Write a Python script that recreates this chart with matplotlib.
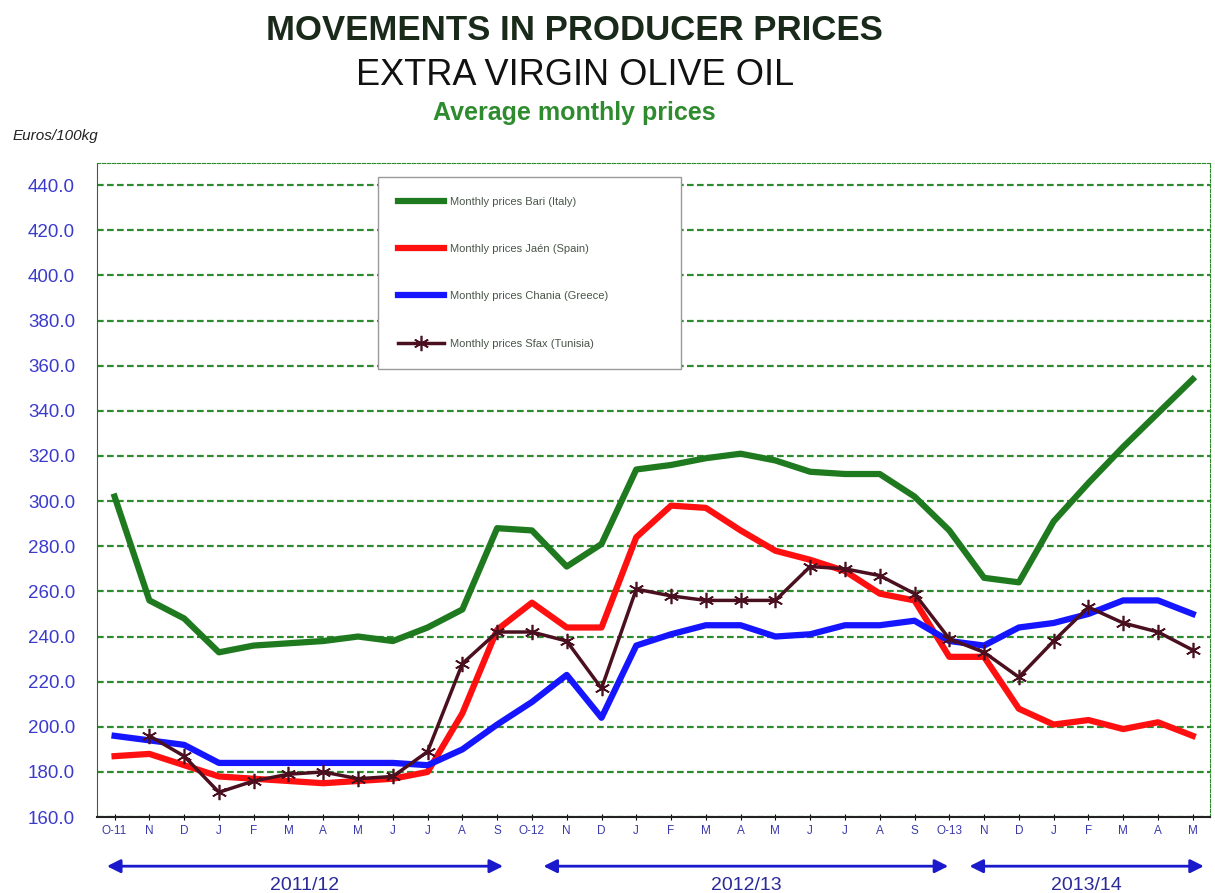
import numpy as np
import matplotlib
matplotlib.use("Agg")
import matplotlib.pyplot as plt

plt.rcParams["font.family"] = ["Liberation Sans", "DejaVu Sans"]

months = ["O-11", "N", "D", "J", "F", "M", "A", "M", "J", "J", "A", "S",
          "O-12", "N", "D", "J", "F", "M", "A", "M", "J", "J", "A", "S",
          "O-13", "N", "D", "J", "F", "M", "A", "M"]

bari = [302, 256, 248, 233, 236, 237, 238, 240, 238, 244, 252, 288,
        287, 271, 281, 314, 316, 319, 321, 318, 313, 312, 312, 302,
        287, 266, 264, 291, 308, 324, 339, 354]
jaen = [187, 188, 183, 178, 177, 176, 175, 176, 177, 180, 206, 243,
        255, 244, 244, 284, 298, 297, 287, 278, 274, 269, 259, 256,
        231, 231, 208, 201, 203, 199, 202, 196]
chania = [196, 194, 192, 184, 184, 184, 184, 184, 184, 183, 190, 201,
          211, 223, 204, 236, 241, 245, 245, 240, 241, 245, 245, 247,
          238, 236, 244, 246, 250, 256, 256, 250]
sfax = [np.nan, 196, 187, 171, 176, 179, 180, 177, 178, 189, 228, 242,
        242, 238, 217, 261, 258, 256, 256, 256, 271, 270, 267, 259,
        239, 233, 222, 238, 253, 246, 242, 234]

seasons = ["2011/12", "2012/13", "2013/14"]
season_spans = [(-0.3, 11.25), (12.25, 24.05), (24.5, 31.4)]

x = np.arange(len(months))

fig = plt.figure(figsize=(12.15, 8.93), dpi=100)
ax = fig.add_axes([0.08, 0.085, 0.916, 0.733])

ax.plot(x, bari, color="#1f7a1f", lw=4.5, label="Monthly prices Bari (Italy)", zorder=3)
ax.plot(x, jaen, color="#ff1010", lw=4.5, label="Monthly prices Jaén (Spain)", zorder=3)
ax.plot(x, chania, color="#1515ff", lw=4.5, label="Monthly prices Chania (Greece)", zorder=3)
ax.plot(x, sfax, color="#4a1020", lw=2.5, marker=(6, 2, 0), ms=11, mew=1.2,
        label="Monthly prices Sfax (Tunisia)", zorder=4)

ax.set_xlim(-0.5, len(months) - 0.5)
ax.set_ylim(160, 450)
yt = np.arange(160, 441, 20)
ax.set_yticks(yt)
ax.set_yticklabels([f"{v:.1f}" for v in yt], color="#3a3acc", fontsize=13.5)
ax.set_xticks(x)
ax.set_xticklabels(months, color="#3a3aaa", fontsize=8.5)
ax.tick_params(axis="y", length=0, pad=16)
ax.tick_params(axis="x", length=4, direction="inout")

ax.yaxis.grid(True, color="#2e8b2e", linestyle=(0, (3, 1.5)), lw=1.6)
ax.set_axisbelow(True)
for s in ["top", "right"]:
    ax.spines[s].set_color("#2e8b2e")
    ax.spines[s].set_linestyle((0, (3, 1.5)))
ax.spines["left"].set_color("#336633")
ax.spines["bottom"].set_color("#222222")
ax.spines["bottom"].set_linewidth(1.5)

leg = ax.legend(loc="upper left", bbox_to_anchor=(0.252, 0.978, 0.273, 0.0),
                mode="expand", fontsize=8,
                labelspacing=3.35, borderpad=1.8, borderaxespad=0,
                handlelength=4.2, handletextpad=0.5,
                fancybox=False, edgecolor="#999999", framealpha=1)
for t in leg.get_texts():
    t.set_color("#4a554a")

# season arrows under the axis
for label, (a, b) in zip(seasons, season_spans):
    ax.annotate("", xy=(a, -0.075), xytext=(b, -0.075),
                xycoords=("data", "axes fraction"),
                textcoords=("data", "axes fraction"),
                arrowprops=dict(arrowstyle="<|-|>", color="#1a1acc", lw=2,
                                mutation_scale=20))
    ax.text((a + b) / 2, -0.092, label, transform=ax.get_xaxis_transform(),
            ha="center", va="top", fontsize=14, color="#2a2a99")

fig.text(0.473, 0.966, "MOVEMENTS IN PRODUCER PRICES", ha="center", va="center",
         fontsize=25, fontweight="bold", color="#1a2a1a")
fig.text(0.473, 0.915, "EXTRA VIRGIN OLIVE OIL", ha="center", va="center",
         fontsize=26, color="#111111")
fig.text(0.473, 0.873, "Average monthly prices", ha="center", va="center",
         fontsize=18, fontweight="bold", color="#2e8b2e")
fig.text(0.01, 0.848, "Euros/100kg", ha="left", va="center",
         fontsize=11, fontstyle="italic", color="#222222")

fig.savefig("out.png", dpi=100)
